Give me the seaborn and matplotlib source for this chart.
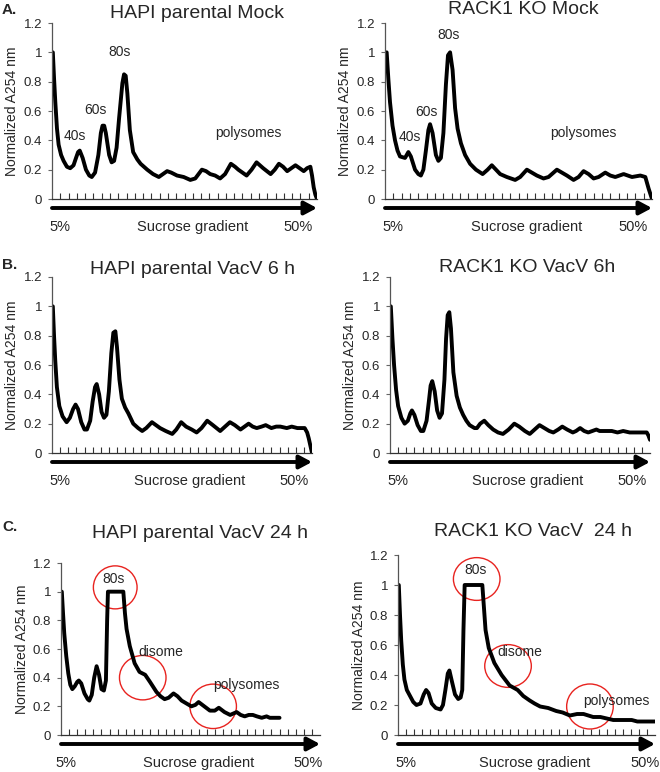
import numpy as np
import pandas as pd
import matplotlib
matplotlib.use("Agg")
import matplotlib.pyplot as plt
import seaborn as sns
from matplotlib.patches import Ellipse
from matplotlib.transforms import ScaledTranslation

sns.set_style("white")
plt.rcParams['font.family'] = ['Liberation Sans', 'DejaVu Sans']

# Profiles: (fraction position, normalized A254)
hapi_mock = [(0.1, 1.0), (0.25, 0.82), (0.4, 0.66), (0.6, 0.48), (0.8, 0.37), (1.1, 0.3), (1.4, 0.26),
             (1.8, 0.22), (2.2, 0.21), (2.6, 0.23), (2.9, 0.28), (3.15, 0.32), (3.35, 0.33), (3.7, 0.28), (4.1, 0.2),
             (4.5, 0.16), (4.8, 0.15), (5.2, 0.18), (5.6, 0.3), (5.9, 0.45), (6.1, 0.5), (6.3, 0.5), (6.5, 0.45),
             (6.9, 0.3), (7.2, 0.25), (7.5, 0.26), (7.8, 0.35), (8.1, 0.55), (8.5, 0.79), (8.7, 0.85), (8.9, 0.84),
             (9.1, 0.72), (9.4, 0.47), (9.8, 0.32), (10.3, 0.27), (10.7, 0.24), (11.5, 0.2), (12.2, 0.17),
             (12.9, 0.15), (13.4, 0.17), (13.9, 0.19), (14.4, 0.18), (15.1, 0.16), (15.9, 0.15), (16.7, 0.13),
             (17.3, 0.14), (18.1, 0.2), (18.6, 0.19), (19.1, 0.17), (19.7, 0.16), (20.3, 0.14), (20.9, 0.17),
             (21.6, 0.24), (22.1, 0.22), (22.5, 0.2), (23.0, 0.18), (23.5, 0.16), (24.1, 0.2), (24.7, 0.25),
             (25.5, 0.21), (26.4, 0.17), (26.9, 0.2), (27.4, 0.24), (27.9, 0.22), (28.4, 0.19), (28.9, 0.21),
             (29.4, 0.23), (29.9, 0.21), (30.4, 0.19), (30.8, 0.21), (31.2, 0.22), (31.4, 0.16), (31.6, 0.08),
             (31.8, 0.03), (32.0, 0.0)]

rack_mock = [(0.2, 1.0), (0.4, 0.82), (0.6, 0.66), (0.9, 0.5), (1.2, 0.4), (1.5, 0.33), (1.8, 0.29),
             (2.4, 0.28), (2.8, 0.32), (3.1, 0.29), (3.6, 0.2), (4.0, 0.17), (4.3, 0.16), (4.6, 0.2),
             (4.9, 0.33), (5.2, 0.47), (5.4, 0.51), (5.7, 0.45), (6.1, 0.3), (6.4, 0.26), (6.7, 0.28),
             (7.0, 0.45), (7.3, 0.78), (7.55, 0.98), (7.8, 1.0), (8.1, 0.88), (8.4, 0.62), (8.7, 0.48),
             (9.1, 0.38), (9.6, 0.3), (10.2, 0.24), (10.9, 0.2), (11.7, 0.17), (12.3, 0.2), (12.8, 0.23),
             (13.3, 0.2), (13.8, 0.17), (14.6, 0.15), (15.6, 0.13), (16.2, 0.15), (17.0, 0.2), (17.6, 0.18),
             (18.2, 0.16), (19.0, 0.14), (19.6, 0.15), (20.6, 0.2), (21.2, 0.18), (21.8, 0.16), (22.6, 0.13),
             (23.2, 0.15), (23.8, 0.19), (24.4, 0.17), (25.0, 0.14), (25.6, 0.15), (26.4, 0.18), (27.0, 0.16),
             (27.6, 0.15), (28.6, 0.17), (29.6, 0.15), (30.6, 0.16), (31.2, 0.15), (31.6, 0.07), (32.0, 0.0)]

hapi_6h = [(0.1, 1.0), (0.25, 0.8), (0.4, 0.63), (0.6, 0.45), (0.9, 0.32), (1.3, 0.25), (1.8, 0.21),
           (2.2, 0.24), (2.6, 0.3), (2.9, 0.33), (3.2, 0.3), (3.6, 0.21), (4.0, 0.16), (4.3, 0.16),
           (4.7, 0.22), (5.0, 0.35), (5.3, 0.45), (5.5, 0.47), (5.8, 0.4), (6.1, 0.28), (6.4, 0.24),
           (6.7, 0.26), (7.0, 0.42), (7.3, 0.68), (7.55, 0.82), (7.8, 0.83), (8.0, 0.72), (8.3, 0.5),
           (8.6, 0.37), (9.0, 0.31), (9.4, 0.27), (10.0, 0.2), (10.6, 0.17), (11.1, 0.15), (11.6, 0.17),
           (12.3, 0.21), (12.8, 0.19), (13.3, 0.17), (14.0, 0.15), (14.8, 0.13), (15.3, 0.16), (15.9, 0.21),
           (16.5, 0.18), (17.2, 0.16), (17.8, 0.14), (18.4, 0.17), (19.1, 0.22), (19.8, 0.19), (20.7, 0.15),
           (21.3, 0.18), (21.9, 0.21), (22.5, 0.19), (23.2, 0.16), (23.7, 0.18), (24.2, 0.2), (24.7, 0.18),
           (25.2, 0.17), (25.8, 0.18), (26.3, 0.19), (27.0, 0.17), (27.6, 0.18), (28.1, 0.18), (28.9, 0.17),
           (29.5, 0.18), (30.2, 0.17), (31.1, 0.17), (31.4, 0.14), (31.6, 0.1), (31.8, 0.05), (32.0, 0.0)]

rack_6h = [(0.1, 1.0), (0.3, 0.78), (0.5, 0.6), (0.75, 0.43), (1.0, 0.32), (1.4, 0.24), (1.8, 0.2),
           (2.2, 0.22), (2.5, 0.27), (2.7, 0.29), (3.0, 0.26), (3.4, 0.19), (3.8, 0.15), (4.1, 0.15),
           (4.5, 0.22), (4.8, 0.36), (5.0, 0.46), (5.2, 0.49), (5.5, 0.42), (5.8, 0.29), (6.1, 0.24),
           (6.4, 0.27), (6.7, 0.5), (6.9, 0.78), (7.1, 0.94), (7.3, 0.96), (7.5, 0.85), (7.8, 0.55),
           (8.2, 0.39), (8.6, 0.31), (9.0, 0.26), (9.4, 0.22), (9.8, 0.19), (10.4, 0.17), (10.7, 0.17),
           (11.1, 0.2), (11.6, 0.22), (12.1, 0.19), (12.7, 0.16), (13.3, 0.14), (13.9, 0.13), (14.6, 0.16),
           (15.3, 0.2), (15.9, 0.18), (16.6, 0.15), (17.2, 0.13), (17.8, 0.16), (18.4, 0.19), (19.0, 0.17),
           (19.6, 0.15), (20.1, 0.14), (20.7, 0.16), (21.2, 0.18), (21.8, 0.16), (22.5, 0.14), (22.9, 0.15),
           (23.4, 0.17), (23.9, 0.15), (24.4, 0.14), (24.9, 0.15), (25.4, 0.16), (25.8, 0.15), (26.2, 0.15),
           (26.8, 0.15), (27.3, 0.15), (28.0, 0.14), (28.7, 0.15), (29.5, 0.14), (30.5, 0.14), (31.6, 0.14),
           (31.8, 0.12), (32.0, 0.09)]

hapi_24h = [(0.1, 1.0), (0.25, 0.85), (0.4, 0.71), (0.65, 0.55), (0.9, 0.43), (1.15, 0.35), (1.4, 0.32),
            (1.7, 0.34), (2.0, 0.37), (2.2, 0.38), (2.5, 0.36), (2.9, 0.29), (3.3, 0.25), (3.5, 0.24),
            (3.8, 0.28), (4.1, 0.4), (4.4, 0.48), (4.7, 0.42), (5.0, 0.32), (5.3, 0.31), (5.55, 0.38),
            (5.7, 0.8), (5.8, 1.0), (6.5, 1.0), (7.7, 1.0), (7.9, 0.85), (8.1, 0.74), (8.5, 0.62),
            (9.1, 0.5), (9.7, 0.44), (10.4, 0.42), (11.0, 0.37), (11.8, 0.3), (12.3, 0.27), (12.8, 0.25),
            (13.3, 0.26), (13.9, 0.29), (14.4, 0.27), (14.9, 0.24), (15.5, 0.22), (16.1, 0.2), (16.6, 0.21),
            (17.0, 0.23), (17.7, 0.2), (18.4, 0.17), (19.0, 0.17), (19.5, 0.19), (20.2, 0.16), (20.9, 0.14),
            (21.3, 0.15), (21.7, 0.16), (22.2, 0.14), (22.7, 0.13), (23.2, 0.14), (23.7, 0.14), (24.2, 0.13),
            (24.8, 0.12), (25.4, 0.13), (25.8, 0.12), (26.2, 0.12), (26.6, 0.12), (27.0, 0.12)]

rack_24h = [(0.1, 1.0), (0.25, 0.8), (0.4, 0.63), (0.6, 0.47), (0.8, 0.37), (1.1, 0.3), (1.5, 0.26),
            (1.9, 0.22), (2.3, 0.2), (2.8, 0.21), (3.2, 0.27), (3.5, 0.3), (3.8, 0.28), (4.2, 0.21),
            (4.7, 0.18), (5.3, 0.17), (5.6, 0.2), (5.9, 0.3), (6.2, 0.41), (6.4, 0.43), (6.7, 0.36),
            (7.1, 0.27), (7.5, 0.24), (7.8, 0.25), (8.0, 0.3), (8.15, 0.7), (8.3, 1.0), (9.4, 1.0),
            (10.5, 1.0), (10.7, 0.85), (10.9, 0.7), (11.3, 0.58), (12.0, 0.48), (12.9, 0.4), (13.9, 0.33),
            (14.9, 0.3), (15.6, 0.26), (16.4, 0.23), (17.0, 0.21), (17.7, 0.19), (18.7, 0.18), (19.7, 0.16),
            (20.5, 0.15), (21.4, 0.13), (22.3, 0.14), (23.1, 0.14), (23.7, 0.13), (24.3, 0.12), (25.2, 0.12),
            (26.0, 0.11), (26.8, 0.1), (27.6, 0.1), (28.3, 0.1), (29.1, 0.1), (29.8, 0.09), (30.5, 0.09),
            (31.2, 0.09), (32.0, 0.09)]

titles = ["HAPI parental Mock", "RACK1 KO Mock", "HAPI parental VacV 6 h",
          "RACK1 KO VacV 6h", "HAPI parental VacV 24 h", "RACK1 KO VacV  24 h"]
y_ticks = [0, 0.2, 0.4, 0.6, 0.8, 1.0, 1.2]
y_tick_labels = ["0", "0.2", "0.4", "0.6", "0.8", "1", "1.2"]

# peak labels per panel: (text, x, y)
labels_hapi_mock = [("40s", 2.8, 0.43), ("60s", 5.2, 0.61), ("80s", 8.2, 1.0), ("polysomes", 23.7, 0.45)]
labels_rack_mock = [("40s", 3.0, 0.42), ("60s", 5.0, 0.59), ("80s", 7.6, 1.12), ("polysomes", 23.8, 0.45)]
labels_hapi_24h = [("80s", 6.5, 1.09), ("disome", 12.3, 0.58), ("polysomes", 22.9, 0.35)]
labels_rack_24h = [("80s", 9.6, 1.1), ("disome", 15.2, 0.55), ("polysomes", 27.2, 0.23)]
# hand-drawn red circles: (x, y, width, height)
circles_hapi_24h = [(6.7, 1.03, 5.4, 0.30), (10.1, 0.40, 5.75, 0.31), (18.8, 0.20, 5.75, 0.31)]
circles_rack_24h = [(9.8, 1.04, 5.8, 0.285), (13.7, 0.46, 5.8, 0.285), (23.9, 0.19, 5.8, 0.30)]

W, H = 660, 772
fig = plt.figure(figsize=(W / 100, H / 100), dpi=100)


def panel(x0, x1, y0, y1):
    # pixel box -> axes (y0 = bottom of axis, y1 = level of 1.2)
    return fig.add_axes([x0 / W, 1 - y0 / H, (x1 - x0) / W, (y0 - y1) / H])


def draw(ax, profile, title, title_xy, labels=(), circles=(), xtext=(0.03, 0.53, 0.93)):
    df = pd.DataFrame(profile, columns=["pos", "a254"])
    sns.lineplot(data=df, x="pos", y="a254", ax=ax, color="black", lw=2.8,
                 sort=False, estimator=None, solid_joinstyle="round", solid_capstyle="round")
    ax.set_xlim(0, 32)
    ax.set_ylim(0, 1.2)
    ax.set_yticks(y_ticks)
    ax.set_yticklabels(y_tick_labels, fontsize=9.5)
    ax.set_xticks(range(1, 32))
    ax.set_xticklabels([])
    ax.tick_params(axis="x", direction="in", length=4, width=0.8, color="#333333", bottom=True)
    ax.tick_params(axis="y", direction="out", length=3, width=0.8, color="#666666", left=True, pad=4)
    for s in ["top", "right"]:
        ax.spines[s].set_visible(False)
    ax.spines["left"].set_color("#555555")
    ax.spines["bottom"].set_color("#333333")
    ax.spines["left"].set_linewidth(0.9)
    ax.spines["bottom"].set_linewidth(0.9)
    ax.set_xlabel("")
    ax.set_ylabel("Normalized A254 nm", fontsize=10)
    ax.yaxis.set_label_coords(-0.125, 0.5)
    ax.patch.set_alpha(0)

    shift = ax.transAxes + ScaledTranslation(0, -0.09, fig.dpi_scale_trans)
    ax.annotate("", xy=(1.0, 0), xytext=(0, 0), xycoords=shift, textcoords=shift,
                arrowprops=dict(arrowstyle="-|>,head_length=0.75,head_width=0.4", lw=2.8,
                                color="black", shrinkA=0, shrinkB=0, mutation_scale=10),
                annotation_clip=False)
    below = ax.transAxes + ScaledTranslation(0, -0.28, fig.dpi_scale_trans)
    for fx, s in zip(xtext, ["5%", "Sucrose gradient", "50%"]):
        ax.text(fx, 0, s, transform=below, ha="center", va="center", fontsize=10.5)

    for s, x, y in labels:
        ax.text(x, y, s, ha="center", va="center", fontsize=10)
    for x, y, w, h in circles:
        ax.add_patch(Ellipse((x, y), w, h, fill=False, ec="#e8231f", lw=1.0, clip_on=False))

    fig.text(title_xy[0] / W, 1 - title_xy[1] / H, title, ha="center", va="center", fontsize=14)


ax1 = panel(52, 317, 199, 23)
draw(ax1, hapi_mock, titles[0], (197, 14), labels_hapi_mock)
ax2 = panel(385, 652, 199, 23)
draw(ax2, rack_mock, titles[1], (523, 10), labels_rack_mock)
ax3 = panel(52, 312, 453, 277)
draw(ax3, hapi_6h, titles[2], (193, 270))
ax4 = panel(390, 650, 453, 277)
draw(ax4, rack_6h, titles[3], (527, 268))
ax5 = panel(61, 320, 735, 563)
draw(ax5, hapi_24h, titles[4], (200, 533), labels_hapi_24h, circles_hapi_24h, xtext=(0.02, 0.53, 0.955))
ax6 = panel(398, 655, 735, 555)
draw(ax6, rack_24h, titles[5], (533, 532), labels_rack_24h, circles_rack_24h, xtext=(0.03, 0.53, 0.96))

for s, y in [("A.", 10), ("B.", 265), ("C.", 527)]:
    fig.text(2 / W, 1 - y / H, s, fontsize=11, fontweight="bold", va="center", ha="left")

fig.savefig("out.png", dpi=100)
